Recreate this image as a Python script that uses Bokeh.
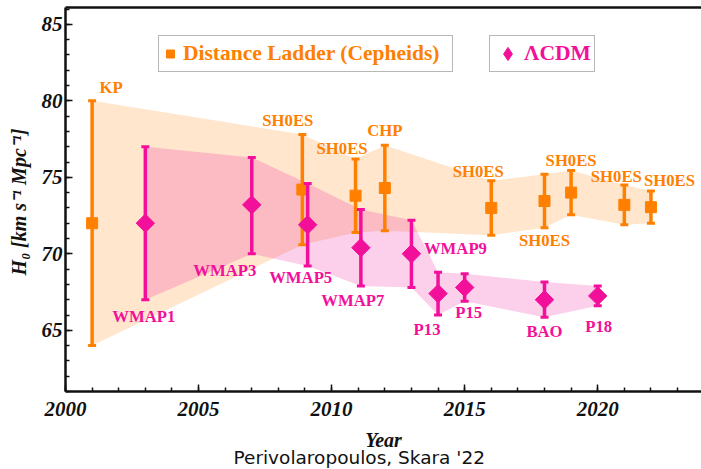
import numpy as np
from bokeh.plotting import figure
from bokeh.models import (Range1d, LinearAxis, Legend, LegendItem, Title,
                          SingleIntervalTicker, FixedTicker, ColumnDataSource)
from bokeh.core.properties import value
from bokeh.embed import file_html
from bokeh.resources import INLINE

# ---------------- data ----------------
# Distance ladder (Cepheids)
dl_names = ["KP", "SH0ES", "SH0ES", "CHP", "SH0ES", "SH0ES", "SH0ES", "SH0ES", "SH0ES"]
dl_year = [2001, 2008.9, 2010.9, 2012, 2016, 2018, 2019, 2021, 2022]
dl_h0 = [72.0, 74.2, 73.8, 74.3, 73.0, 73.45, 74.0, 73.2, 73.05]
dl_err = [8.0, 3.6, 2.4, 2.8, 1.78, 1.75, 1.45, 1.3, 1.05]

# LambdaCDM (CMB / BAO)
cmb_names = ["WMAP1", "WMAP3", "WMAP5", "WMAP7", "WMAP9", "P13", "P15", "BAO", "P18"]
cmb_year = [2003, 2007, 2009.1, 2011.1, 2013, 2014, 2015, 2018, 2020]
cmb_h0 = [72.0, 73.2, 71.9, 70.4, 70.0, 67.4, 67.8, 67.0, 67.25]
cmb_err_hi = [5.0, 3.1, 2.7, 2.5, 2.2, 1.4, 0.9, 1.15, 0.65]
cmb_err_lo = [5.0, 3.2, 2.7, 2.5, 2.2, 1.4, 0.9, 1.15, 0.65]

# ---------------- label placement (screen px) ----------------
dl_lab_side = ["top", "top", "top", "top", "top", "bottom", "top", "top", "top"]
dl_lab_dx = [19, -14.5, -13.5, 0, -13, 0, 0, -8, 18.5]
dl_lab_dy = [-13, -14, -10, -15, -9, 13, -10, -8.5, -10.7]

cmb_lab_side = ["bottom", "bottom", "bottom", "bottom", "center", "bottom", "bottom", "bottom", "bottom"]
cmb_lab_dx = [-1.5, -27, -7, -8, 44, -11, 4, 0, 1]
cmb_lab_dy = [16.5, 17, 11.5, 15, -5, 14, 11.5, 14, 20.5]

ORANGE = "#ff8000"
MAGENTA = "#f2109a"
SERIF = "Liberation Serif"
INK = "#111111"

dl_lo = [v - e for v, e in zip(dl_h0, dl_err)]
dl_hi = [v + e for v, e in zip(dl_h0, dl_err)]
cmb_lo = [v - e for v, e in zip(cmb_h0, cmb_err_lo)]
cmb_hi = [v + e for v, e in zip(cmb_h0, cmb_err_hi)]

p = figure(width=701, height=469, output_backend="svg", toolbar_location=None,
           x_range=Range1d(2000, 2023.9), y_range=Range1d(61, 86.1),
           min_border_left=65, min_border_right=0, min_border_top=7,
           min_border_bottom=78, background_fill_color="white",
           border_fill_color="white")
p.outline_line_color = None
p.xgrid.visible = False
p.ygrid.visible = False

# bands
p.patch(dl_year + dl_year[::-1], dl_hi + dl_lo[::-1], fill_color=ORANGE,
        fill_alpha=0.2, line_color=None)
p.patch(cmb_year + cmb_year[::-1], cmb_hi + cmb_lo[::-1], fill_color=MAGENTA,
        fill_alpha=0.2, line_color=None)

# error bars + markers
def bars(xs, lo, hi, color):
    p.segment(x0=xs, y0=lo, x1=xs, y1=hi, line_color=color, line_width=3.5)
    p.scatter(xs, lo, marker="dash", size=8, line_color=color, line_width=3)
    p.scatter(xs, hi, marker="dash", size=8, line_color=color, line_width=3)

bars(dl_year, dl_lo, dl_hi, ORANGE)
sq = p.scatter(dl_year, dl_h0, marker="square", size=11, fill_color=ORANGE,
               line_color=ORANGE)
bars(cmb_year, cmb_lo, cmb_hi, MAGENTA)
# small diamond hidden under each rotated square: gives the legend its diamond
di_leg = p.scatter(cmb_year, cmb_h0, marker="diamond", size=12,
                   fill_color=MAGENTA, line_color=MAGENTA)
p.scatter(cmb_year, cmb_h0, marker="square", size=13, angle=np.pi / 4,
          fill_color=MAGENTA, line_color=MAGENTA)

# point labels
def anchor(side, v, lo, hi):
    return [h if s == "top" else (l if s == "bottom" else c)
            for s, c, l, h in zip(side, v, lo, hi)]

src_dl = ColumnDataSource(dict(x=dl_year, y=anchor(dl_lab_side, dl_h0, dl_lo, dl_hi),
                               t=dl_names, dx=dl_lab_dx, dy=dl_lab_dy))
src_cmb = ColumnDataSource(dict(x=cmb_year, y=anchor(cmb_lab_side, cmb_h0, cmb_lo, cmb_hi),
                                t=cmb_names, dx=cmb_lab_dx, dy=cmb_lab_dy))
for src, col in ((src_dl, ORANGE), (src_cmb, MAGENTA)):
    p.text(x="x", y="y", text="t", x_offset="dx", y_offset="dy", source=src,
           text_align="center", text_baseline="middle", text_font=value(SERIF),
           text_font_style="bold", text_font_size="16.7px", text_color=col)

# legends (two separate boxes)
lg_common = dict(spacing=0, margin=0, label_text_font=SERIF,
                 label_text_font_style="bold", label_text_font_size="21.5px",
                 border_line_color="#707070", border_line_width=1.5,
                 background_fill_alpha=1.0, glyph_height=33, label_height=33)
lg1 = Legend(items=[LegendItem(label="Distance Ladder (Cepheids)", renderers=[sq])],
             location=(93, 319), padding=1, glyph_width=20, label_width=268,
             label_standoff=3, label_text_color=ORANGE, **lg_common)
lg2 = Legend(items=[LegendItem(label="\u039bCDM", renderers=[di_leg])],
             location=(424, 319), padding=1, glyph_width=33, label_width=69,
             label_standoff=0, label_text_color=MAGENTA, **lg_common)
p.add_layout(lg1, "center")
p.add_layout(lg2, "center")

# axes
for ax in (p.xaxis[0], p.yaxis[0]):
    ax.axis_line_width = 2.5
    ax.axis_line_color = INK
    ax.major_tick_in = 7
    ax.major_tick_out = 0
    ax.minor_tick_in = 4
    ax.minor_tick_out = 0
    ax.major_tick_line_width = 1.5
    ax.minor_tick_line_width = 1.5
    ax.major_tick_line_color = INK
    ax.minor_tick_line_color = INK
    ax.major_label_text_font = SERIF
    ax.major_label_text_font_style = "bold italic"
    ax.major_label_text_font_size = "21px"
    ax.major_label_text_color = INK
    ax.axis_label_text_font = SERIF
    ax.axis_label_text_font_style = "bold italic"
    ax.axis_label_text_font_size = "20px"
    ax.axis_label_text_color = INK

p.xaxis.ticker = SingleIntervalTicker(interval=5, num_minor_ticks=5)
p.yaxis.ticker = SingleIntervalTicker(interval=5, num_minor_ticks=5)
p.xaxis.major_label_standoff = 10
p.xaxis.axis_label = "Year"
p.xaxis.axis_label_standoff = 10
p.yaxis.major_label_standoff = 3
p.yaxis.axis_label = "H\u2080  [km s\u207b\u00b9 Mpc\u207b\u00b9]"
p.yaxis.axis_label_standoff = 9

top = LinearAxis(axis_line_width=2.5, axis_line_color=INK, ticker=FixedTicker(ticks=[]),
                 major_tick_line_color=None, minor_tick_line_color=None,
                 major_label_standoff=0)
p.add_layout(top, "above")

cap = Title(text="Perivolaropoulos, Skara '22", align="left", offset=168,
            vertical_align="top", text_font="DejaVu Sans", text_font_style="normal",
            text_font_size="18.5px", text_color=INK, standoff=-13)
p.add_layout(cap, "below")

open("out.html", "w").write(file_html(p, INLINE))
